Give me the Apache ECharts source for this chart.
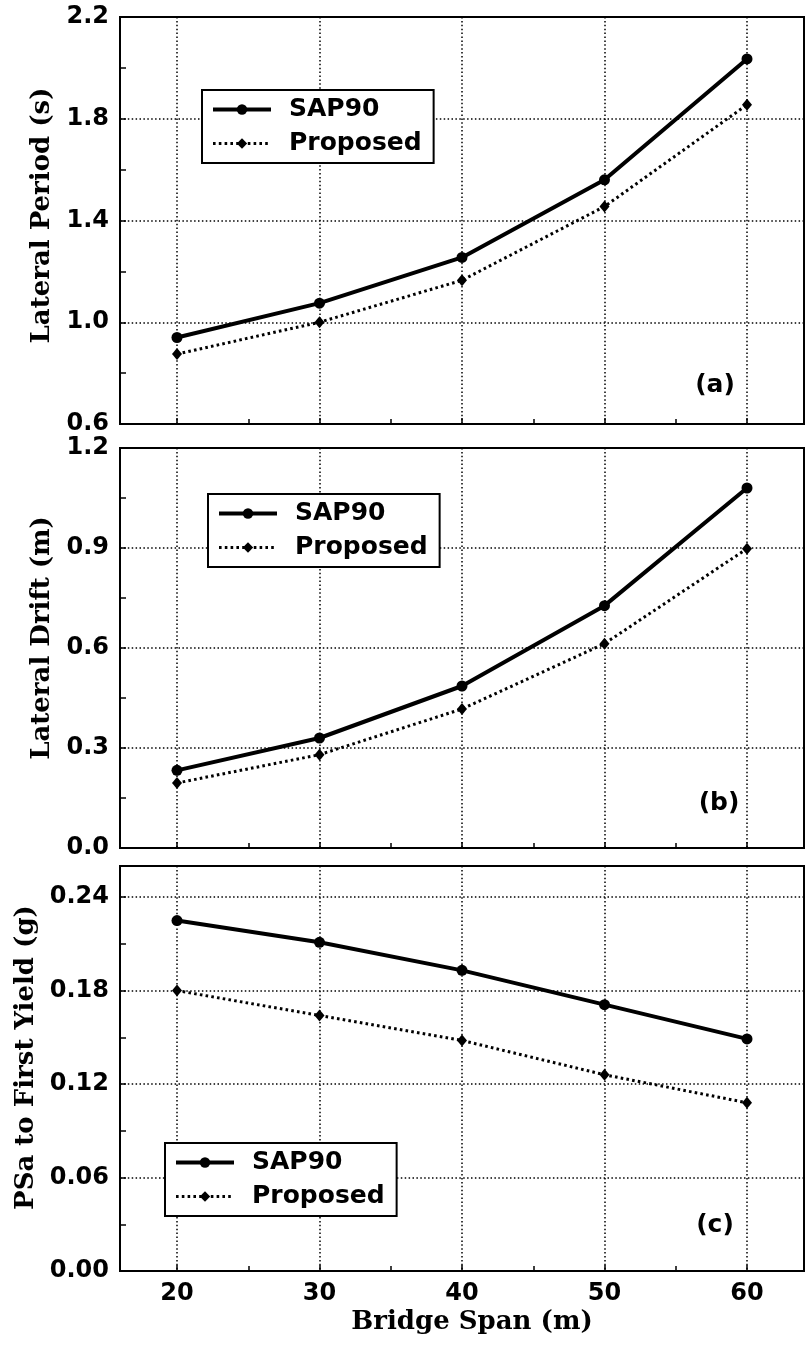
<!DOCTYPE html>
<html><head><meta charset="utf-8">
<script src="https://cdn.jsdelivr.net/npm/echarts@6/dist/echarts.min.js"></script>
<style>html,body{margin:0;padding:0;background:#fff}#c{width:805px;height:1349px}</style>
</head><body><div id="c"></div>
<script>
// ---- data ----
const spans = [20, 30, 40, 50, 60];
const periodSAP90 = [0.94, 1.075, 1.255, 1.56, 2.035];
const periodProposed = [0.875, 1.0, 1.165, 1.455, 1.855];
const driftSAP90 = [0.233, 0.33, 0.486, 0.727, 1.08];
const driftProposed = [0.195, 0.28, 0.417, 0.613, 0.898];
const psaSAP90 = [0.225, 0.211, 0.193, 0.171, 0.149];
const psaProposed = [0.18, 0.164, 0.148, 0.126, 0.108];
// tick labels
const spanTicks = [20, 30, 40, 50, 60];
const periodTicks = [0.6, 1.0, 1.4, 1.8, 2.2];
const driftTicks = [0.0, 0.3, 0.6, 0.9, 1.2];
const psaTicks = [0.00, 0.06, 0.12, 0.18, 0.24];
const psaMax = 0.26;
const spanMin = 16, spanMax = 64;
const yTitles = ['Lateral Period (s)', 'Lateral Drift (m)', 'PSa to First Yield (g)'];
const xTitle = 'Bridge Span (m)';
const panelLabels = ['(a)', '(b)', '(c)'];
const seriesNames = ['SAP90', 'Proposed'];

// ---- layout / style ----
const grids = [
  {left: 120, right: 1, top: 17, height: 407},
  {left: 120, right: 1, top: 448, height: 400},
  {left: 120, right: 1, top: 866, height: 405}
];
const SANS = 'DejaVu Sans', SERIF = 'DejaVu Serif';
const gridLine = {color: '#000', width: 1.5, type: [1.5, 2.4]};
const sapLine = {color: '#000', width: 4, type: 'solid'};
const propLine = {color: '#000', width: 3, type: [2.6, 3.2]};

function yAxis(i, ticks, max, dec, gap, shift, showMax) {
  return {
    type: 'value', gridIndex: i,
    min: ticks[0], max: max, interval: ticks[1] - ticks[0],
    axisLine: {show: true, lineStyle: {color: '#000', width: 2}},
    axisTick: {show: true, inside: true, length: 6, lineStyle: {color: '#000', width: 1.5}},
    minorTick: {show: true, splitNumber: 2, length: 6, lineStyle: {color: '#000', width: 1.5}},
    splitLine: {show: true, lineStyle: gridLine},
    axisLabel: {fontFamily: SANS, fontWeight: 'bold', fontSize: 24, color: '#000', margin: 11,
      showMaxLabel: showMax, formatter: v => v.toFixed(dec)},
    name: yTitles[i], nameLocation: 'middle', nameGap: gap,
    nameTextStyle: {fontFamily: SERIF, fontWeight: 'bold', fontSize: 26, color: '#000',
      padding: [0, 0, 0, shift]}
  };
}
function xAxis(i, showLabels) {
  const ax = {
    type: 'value', gridIndex: i, min: spanMin, max: spanMax,
    splitNumber: spanTicks.length,
    axisLine: {show: true, onZero: false, lineStyle: {color: '#000', width: 2}},
    axisTick: {show: true, inside: true, length: 6, lineStyle: {color: '#000', width: 1.5}},
    minorTick: {show: true, splitNumber: 2, length: 5, lineStyle: {color: '#000', width: 1.5}},
    splitLine: {show: true, lineStyle: gridLine},
    axisLabel: {show: showLabels, fontFamily: SANS, fontWeight: 'bold', fontSize: 24, color: '#000', margin: 11,
      showMinLabel: false, showMaxLabel: false,
      formatter: v => spanTicks.includes(v) ? String(v) : ''}
  };
  if (showLabels) {
    ax.name = xTitle;
    ax.nameLocation = 'middle';
    ax.nameGap = 38;
    ax.nameTextStyle = {fontFamily: SERIF, fontWeight: 'bold', fontSize: 26, color: '#000', padding: [0, 0, 0, 20]};
  }
  return ax;
}
const pair = arr => spans.map((s, k) => [s, arr[k]]);
function sap(i, arr) {
  return {name: 'SAP90', type: 'line', xAxisIndex: i, yAxisIndex: i, data: pair(arr),
    symbol: 'circle', symbolSize: 11, showAllSymbol: true,
    lineStyle: sapLine, itemStyle: {color: '#000'}, emphasis: {disabled: true}, animation: false};
}
function prop(i, arr) {
  return {name: 'Proposed', type: 'line', xAxisIndex: i, yAxisIndex: i, data: pair(arr),
    symbol: 'diamond', symbolSize: [10, 12], showAllSymbol: true,
    lineStyle: propLine, itemStyle: {color: '#000'}, emphasis: {disabled: true}, animation: false};
}
function legend(left, top) {
  return {
    data: [
      {name: seriesNames[0], lineStyle: sapLine},
      {name: seriesNames[1], lineStyle: propLine}
    ],
    orient: 'vertical', left: left, top: top,
    padding: [7, 12, 7, 9], itemGap: 9, itemWidth: 58, itemHeight: 13,
    borderColor: '#000', borderWidth: 2, backgroundColor: '#fff',
    selectedMode: false,
    textStyle: {fontFamily: SANS, fontWeight: 'bold', fontSize: 25, color: '#000', padding: [0, 0, 0, 13]}
  };
}
const labelPos = [[715, 385], [719, 803], [715, 1225]];

const option = {
  backgroundColor: '#fff',
  animation: false,
  grid: grids.map(g => Object.assign({show: true, borderColor: '#000', borderWidth: 2, backgroundColor: 'transparent'}, g)),
  xAxis: [xAxis(0, false), xAxis(1, false), xAxis(2, true)],
  yAxis: [
    yAxis(0, periodTicks, periodTicks[periodTicks.length - 1], 1, 64, 10, true),
    yAxis(1, driftTicks, driftTicks[driftTicks.length - 1], 1, 60, 20, true),
    yAxis(2, psaTicks, psaMax, 2, 75, 22, false)
  ],
  legend: [legend(202, 90), legend(208, 494), legend(165, 1143)],
  series: [
    sap(0, periodSAP90), prop(0, periodProposed),
    sap(1, driftSAP90), prop(1, driftProposed),
    sap(2, psaSAP90), prop(2, psaProposed)
  ],
  graphic: panelLabels.map((t, k) => ({
    type: 'text', x: labelPos[k][0], y: labelPos[k][1],
    style: {text: t, fontFamily: SANS, fontWeight: 'bold', fontSize: 25, fill: '#000',
      align: 'center', verticalAlign: 'middle'}
  }))
};
const chart = echarts.init(document.getElementById('c'), null, {renderer: 'canvas'});
chart.setOption(option);
</script>
</body></html>
